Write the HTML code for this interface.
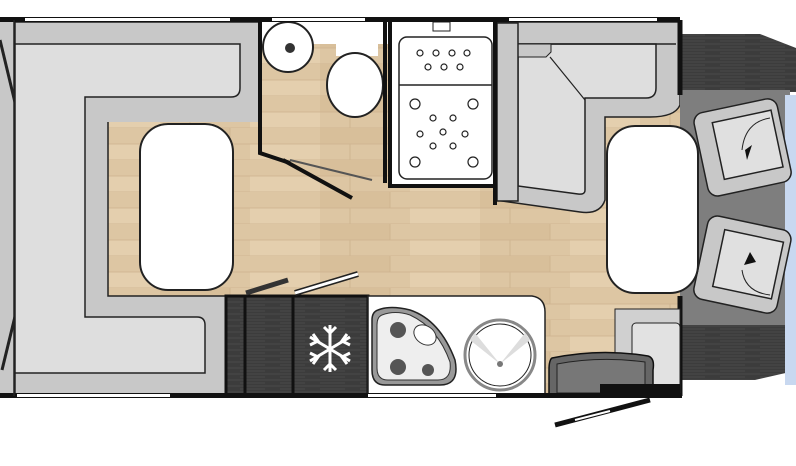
<!DOCTYPE html>
<html><head><meta charset="utf-8"><style>html,body{margin:0;padding:0;background:#fff}svg{display:block}</style></head>
<body>
<svg width="796" height="466" viewBox="0 0 796 466" xmlns="http://www.w3.org/2000/svg">
<defs>
<pattern id="wood" width="160" height="32" patternUnits="userSpaceOnUse">
<rect width="160" height="32" fill="#ddc6a3"/>
<rect x="0" y="0" width="70" height="16" fill="#d8bf9a"/>
<rect x="90" y="16" width="70" height="16" fill="#e4cfae"/>
<path d="M0 16H160M0 32H160M70 0V16M30 16V32" stroke="#cdb38e" stroke-width="0.8"/>
</pattern>
<pattern id="dark" width="40" height="6" patternUnits="userSpaceOnUse">
<rect width="40" height="6" fill="#3c3c3c"/><path d="M0 2H40M0 5H25" stroke="#4a4a4a" stroke-width="1"/>
</pattern>
</defs>
<!-- floor -->
<rect x="105" y="100" width="578" height="295" fill="url(#wood)"/>
<rect x="262" y="44" width="128" height="140" fill="url(#wood)"/>
<!-- left door strip -->
<rect x="0" y="20" width="15" height="375" fill="#c8c8c8"/>
<line x1="0" y1="40" x2="18" y2="115" stroke="#222" stroke-width="3"/>
<line x1="19" y1="300" x2="2" y2="370" stroke="#222" stroke-width="3"/>
<!-- left L seat -->
<rect x="15" y="22" width="245" height="373" fill="#c8c8c8" stroke="#222" stroke-width="1.5"/>
<path d="M15 44H240V88Q240 97 231 97H85V317H197Q205 317 205 325V373H15Z" fill="#dedede" stroke="#222" stroke-width="1.5"/>
<rect x="108" y="122" width="160" height="174" fill="url(#wood)"/>
<path d="M108 122V296H225" fill="none" stroke="#222" stroke-width="1.5"/>
<!-- bathroom -->
<rect x="262" y="22" width="128" height="22" fill="#fff"/>
<rect x="336" y="44" width="42" height="12" fill="#fff"/>
<circle cx="288" cy="47" r="25" fill="#fff" stroke="#222" stroke-width="2"/>
<circle cx="290" cy="48" r="5" fill="#333"/>
<ellipse cx="355" cy="85" rx="28" ry="32" fill="#fff" stroke="#222" stroke-width="2"/>
<path d="M260 20V153L290 163M385 183V22" fill="none" stroke="#111" stroke-width="4"/>
<line x1="283" y1="160" x2="352" y2="198" stroke="#111" stroke-width="4"/>
<line x1="290" y1="160" x2="372" y2="180" stroke="#555" stroke-width="2"/>
<!-- shower -->
<rect x="390" y="20" width="105" height="166" fill="#fff" stroke="#111" stroke-width="4"/>
<rect x="399" y="37" width="93" height="142" rx="8" fill="#fff" stroke="#222" stroke-width="1.5"/>
<line x1="399" y1="85" x2="492" y2="85" stroke="#222" stroke-width="1.5"/>
<rect x="433" y="22" width="17" height="9" fill="#fff" stroke="#222"/>
<g fill="none" stroke="#222" stroke-width="1.2">
<circle cx="420" cy="53" r="3"/><circle cx="436" cy="53" r="3"/><circle cx="452" cy="53" r="3"/><circle cx="467" cy="53" r="3"/>
<circle cx="428" cy="67" r="3"/><circle cx="444" cy="67" r="3"/><circle cx="460" cy="67" r="3"/>
<circle cx="415" cy="104" r="5"/><circle cx="473" cy="104" r="5"/><circle cx="415" cy="162" r="5"/><circle cx="473" cy="162" r="5"/>
<circle cx="433" cy="118" r="3"/><circle cx="453" cy="118" r="3"/><circle cx="420" cy="134" r="3"/><circle cx="443" cy="132" r="3"/><circle cx="465" cy="134" r="3"/><circle cx="433" cy="146" r="3"/><circle cx="453" cy="146" r="3"/>
</g>
<!-- right seat -->
<path d="M495 22H680V105Q675 117 650 117H605V200Q600 215 580 212L495 200Z" fill="#c8c8c8" stroke="#222" stroke-width="1.5"/>
<path d="M518 44H656V88Q656 98 646 98H585V190Q585 195 578 194L518 186Z" fill="#dedede" stroke="#222" stroke-width="1.5"/>
<line x1="518" y1="44" x2="676" y2="44" stroke="#222" stroke-width="1.5"/>
<path d="M518 44H551V52L546 57H518Z" fill="#c8c8c8" stroke="#222"/>
<line x1="550" y1="57" x2="585" y2="100" stroke="#222" stroke-width="1.2"/>
<rect x="497" y="23" width="21" height="178" fill="#c8c8c8" stroke="#222" stroke-width="1.5"/>
<line x1="495" y1="22" x2="495" y2="205" stroke="#111" stroke-width="4"/>
<!-- cab -->
<path d="M680 34H760L796 48V92H680Z" fill="url(#dark)"/>
<rect x="680" y="90" width="110" height="235" fill="#7e7e7e"/>
<path d="M680 325H790V372L755 380H680Z" fill="url(#dark)"/>
<rect x="680" y="380" width="105" height="15" fill="#fff"/>
<rect x="785" y="95" width="11" height="290" fill="#c8d8f0"/>
<g stroke="#222" stroke-width="1.5">
<rect x="700" y="105" width="85" height="85" rx="10" fill="#c8c8c8" transform="rotate(-12 742 147)"/>
<rect x="718" y="117" width="60" height="58" fill="#e0e0e0" transform="rotate(-12 742 147)"/>
<rect x="700" y="222" width="85" height="85" rx="10" fill="#c8c8c8" transform="rotate(12 742 264)"/>
<rect x="718" y="234" width="60" height="58" fill="#e0e0e0" transform="rotate(12 742 264)"/>
</g>
<path d="M745 150L752 145L747 160Z" fill="#111"/>
<path d="M750 252L744 265L756 262Z" fill="#111"/>
<path d="M742 270Q745 292 770 295" fill="none" stroke="#222"/>
<path d="M742 150Q745 122 770 118" fill="none" stroke="#222"/>
<line x1="680" y1="20" x2="680" y2="95" stroke="#111" stroke-width="5"/>
<line x1="680" y1="296" x2="680" y2="396" stroke="#111" stroke-width="5"/>
<!-- tables -->
<rect x="140" y="124" width="93" height="166" rx="28" fill="#fff" stroke="#222" stroke-width="2"/>
<rect x="607" y="126" width="91" height="167" rx="28" fill="#fff" stroke="#222" stroke-width="2"/>
<!-- kitchen dark units -->
<rect x="226" y="296" width="142" height="99" fill="url(#dark)" stroke="#111" stroke-width="3"/>
<line x1="245" y1="296" x2="245" y2="395" stroke="#111" stroke-width="3"/>
<line x1="293" y1="296" x2="293" y2="395" stroke="#111" stroke-width="3"/>
<line x1="246" y1="293" x2="288" y2="280" stroke="#333" stroke-width="5"/>
<line x1="295" y1="293" x2="358" y2="274" stroke="#222" stroke-width="6"/>
<line x1="295" y1="293" x2="358" y2="274" stroke="#fff" stroke-width="3"/>
<g stroke="#fff" stroke-width="3" fill="none">
<path d="M330 325V372M310 337L350 361M310 361L350 337"/>
<path d="M324 327L330 333L336 327M324 370L330 364L336 370M310 345L318 341L313 334M350 353L342 357L347 364M310 353L318 357L313 364M350 345L342 341L347 334"/>
</g>
<!-- counter -->
<path d="M368 296H532Q545 298 545 312V395H368Z" fill="#fff" stroke="#222" stroke-width="1.5"/>
<path d="M378 310Q390 305 410 310Q440 320 455 360Q460 385 440 385H385Q372 385 372 370V320Q372 312 378 310Z" fill="#999" stroke="#222" stroke-width="1.5"/>
<path d="M382 315Q395 310 410 315Q438 328 450 362Q452 380 438 380H388Q377 380 377 368V325Q377 317 382 315Z" fill="#eee" stroke="#333"/>
<circle cx="398" cy="330" r="8" fill="#555"/><circle cx="398" cy="367" r="8" fill="#555"/><circle cx="428" cy="370" r="6" fill="#555"/>
<ellipse cx="425" cy="335" rx="12" ry="9" fill="#fff" stroke="#333" transform="rotate(35 425 335)"/>
<circle cx="500" cy="355" r="35" fill="#fff" stroke="#888" stroke-width="3"/>
<circle cx="500" cy="355" r="31" fill="none" stroke="#222" stroke-width="1"/>
<path d="M500 364L470 340L475 333ZM500 364L530 340L525 333Z" fill="#ddd"/>
<circle cx="500" cy="364" r="3" fill="#777"/>
<!-- chair + cabinet -->
<rect x="615" y="309" width="65" height="86" fill="#d0d0d0" stroke="#222"/>
<rect x="632" y="323" width="48" height="70" rx="4" fill="#e2e2e2" stroke="#222"/>
<path d="M552 358Q600 348 648 356Q655 358 653 370V395H549V370Q549 360 552 358Z" fill="#666" stroke="#111" stroke-width="1.5"/>
<path d="M557 364Q600 356 645 362V393H557Z" fill="#777" stroke="#222"/>
<!-- outer walls -->
<rect x="0" y="17" width="680" height="5" fill="#111"/>
<rect x="25" y="18" width="205" height="3" fill="#fff"/>
<rect x="272" y="18" width="93" height="3" fill="#fff"/>
<rect x="509" y="18" width="148" height="3" fill="#fff"/>
<rect x="0" y="393" width="682" height="5" fill="#111"/>
<rect x="17" y="394" width="153" height="3" fill="#fff"/>
<rect x="368" y="394" width="128" height="3" fill="#fff"/>
<rect x="600" y="384" width="80" height="12" fill="#111"/>
<line x1="555" y1="425" x2="650" y2="400" stroke="#111" stroke-width="5"/>
<line x1="575" y1="420" x2="610" y2="411" stroke="#fff" stroke-width="2"/>
<line x1="14" y1="20" x2="14" y2="396" stroke="#222" stroke-width="1.5"/>
</svg>
</body></html>
